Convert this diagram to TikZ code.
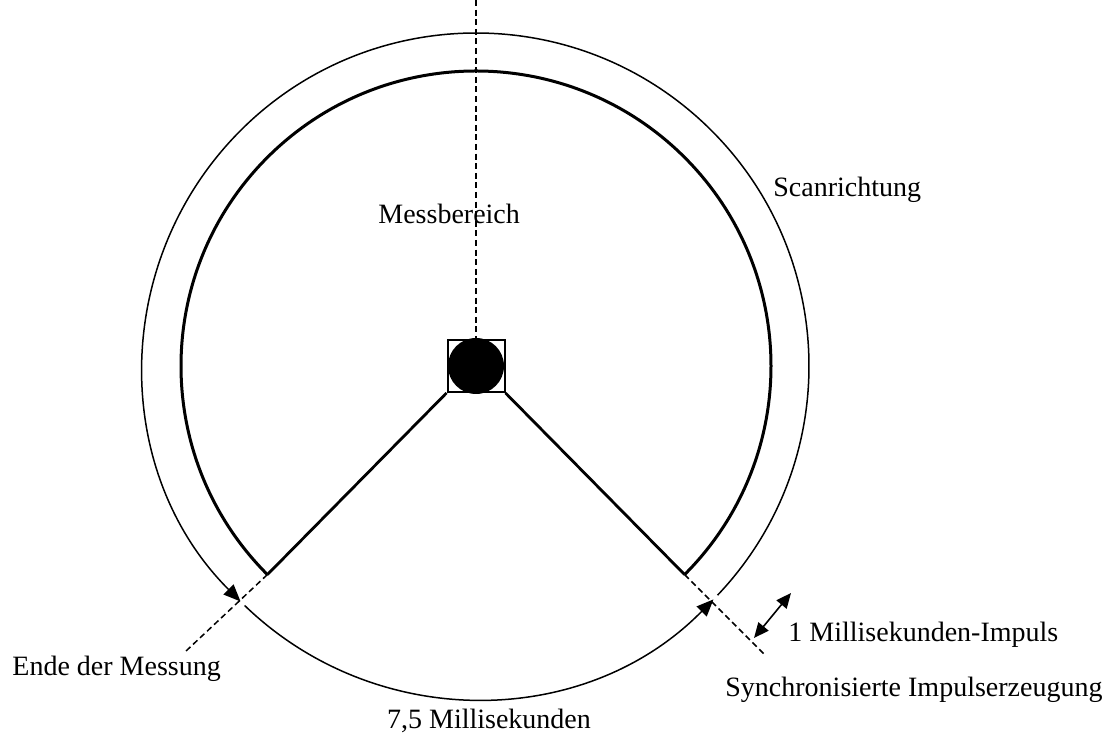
\documentclass[tikz,border=0pt]{standalone}
\usepackage{fontspec}
\setmainfont{Liberation Serif}
\usetikzlibrary{arrows.meta,calc}
\tikzset{
  outerring/.style={line width=0.75pt},
  innerring/.style={line width=1.5pt},
  armline/.style={line width=1.4pt},
  guideline/.style={line width=0.75pt,dash pattern=on 3pt off 1.8pt},
  scanarrow/.style={-{Triangle[length=8.5pt,width=7pt]},line width=0.75pt},
  pulsearrow/.style={{Triangle[length=7.5pt,width=6.5pt]}-{Triangle[length=7.5pt,width=6.5pt]},line width=0.8pt},
  sensorbox/.style={draw,line width=1pt,minimum width=28.5pt,minimum height=26pt,inner sep=0pt},
  mirrordot/.style={circle,fill=black,minimum size=28pt,inner sep=0pt},
  figurelabel/.style={font=\fontsize{14}{17}\selectfont,inner sep=0pt}
}
\begin{document}
\begin{tikzpicture}[x=0.5pt,y=0.5pt]
  \useasboundingbox (0,0) rectangle (1120,738);
  \coordinate (c) at (476,372);
  \node[mirrordot] (mirror) at (c) {};
  \node[sensorbox] (sensor) at (c) {};
  % Messbereich
  \coordinate (innerL) at ($(c)+(225:295)$);
  \coordinate (innerR) at ($(c)+(-45:295)$);
  \draw[innerring] (innerR) arc[start angle=-45,end angle=225,radius=295];
  \draw[armline] (sensor.south west) -- (innerL);
  \draw[armline] (sensor.south east) -- (innerR);
  % Scanrichtung
  \coordinate (outerA) at ($(c)+(-43.5:333)$);
  \coordinate (outerB) at ($(c)+(226:333)$);
  \draw[scanarrow] (outerA) arc[start angle=-43.5,end angle=225,radius=333];
  \draw[scanarrow] (outerB) arc[start angle=226,end angle=315.5,radius=333];
  % Hilfslinien
  \coordinate (top) at (476,738);
  \coordinate (guideL) at ($(c)+(224.5:408)$);
  \coordinate (guideR) at ($(c)+(-45:410)$);
  \draw[guideline] (top) -- (sensor.north);
  \draw[guideline] (innerL) -- (guideL);
  \draw[guideline] (innerR) -- (guideR);
  \coordinate (pulseA) at (754,100);
  \coordinate (pulseB) at (791,145);
  \draw[pulsearrow] (pulseA) -- (pulseB);
  % Beschriftung
  \node[figurelabel,anchor=base west] (range) at (378,514) {Messbereich};
  \node[figurelabel,anchor=base west] (scan) at (773,541) {Scanrichtung};
  \node[figurelabel,anchor=base west] (pulse) at (788,96) {1 Millisekunden-Impuls};
  \node[figurelabel,anchor=base west] (sync) at (725,41) {Synchronisierte Impulserzeugung};
  \node[figurelabel,anchor=base west] (stop) at (12,62) {Ende der Messung};
  \node[figurelabel,anchor=base] (period) at (489,9) {7,5 Millisekunden};
\end{tikzpicture}
\end{document}
